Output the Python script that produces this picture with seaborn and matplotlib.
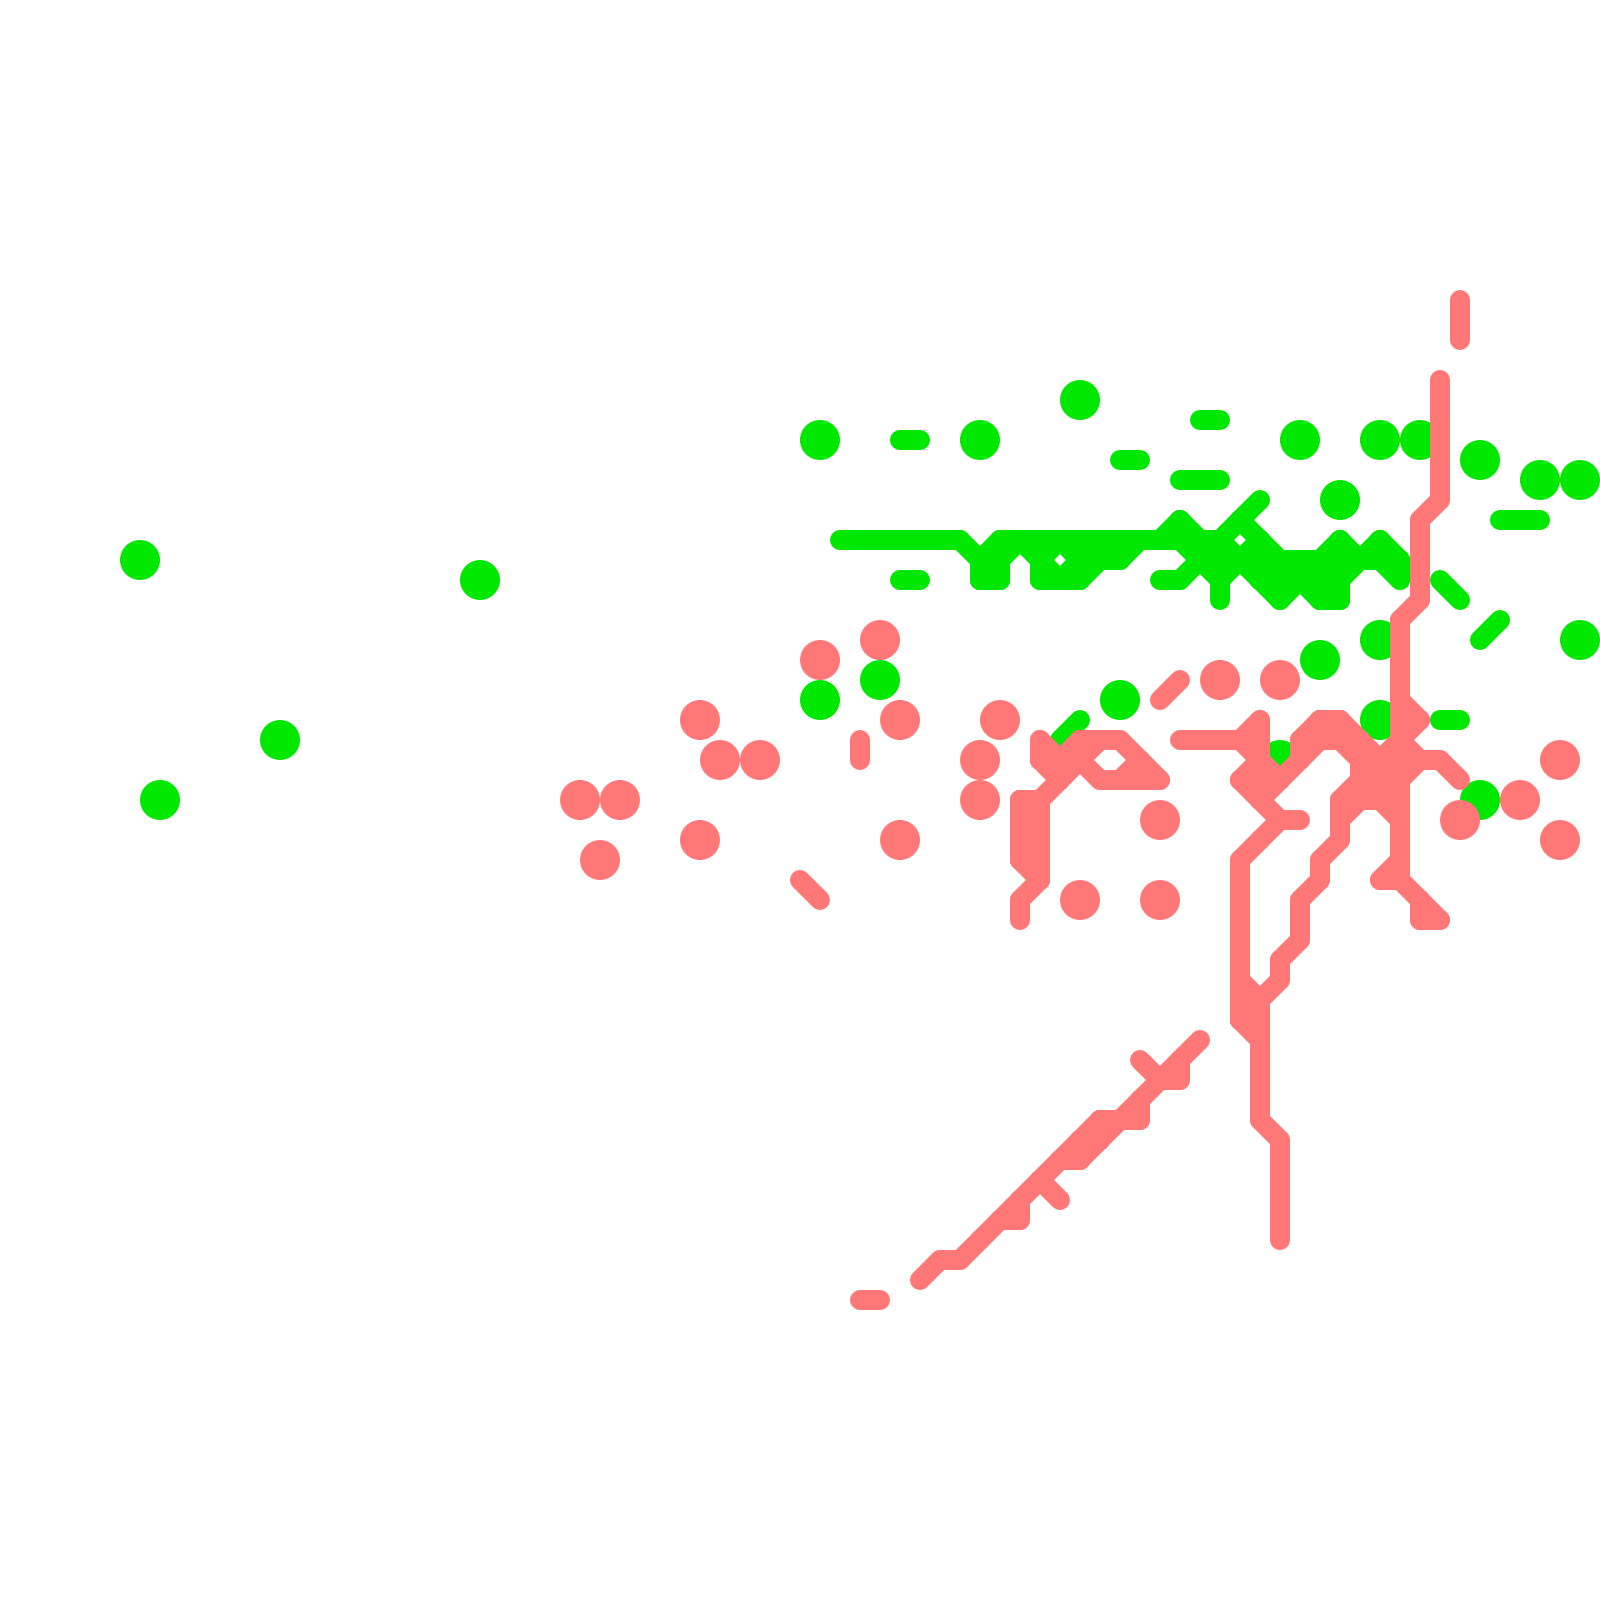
import matplotlib
matplotlib.use("Agg")
import matplotlib.pyplot as plt
import pandas as pd
import seaborn as sns

GREEN = "#00E800"
RED = "#FF7777"

# Occupied grid cells, listed row by row (grid of 80 x 80 cells)
green_x = [54, 60, 61, 41, 45, 46, 49, 65, 69, 71, 56, 57, 74,
           59, 60, 61, 77, 79, 63, 67, 59, 62, 75, 76, 77,
           42, 43, 44, 45, 46, 47, 48, 50, 51, 52, 53, 54, 55, 56, 57, 58, 59, 60, 61, 63, 67, 69,
           7, 49, 50, 52, 54, 55, 56, 60, 61, 62, 63, 64, 65, 66, 67, 68, 69, 70,
           24, 45, 46, 49, 50, 52, 53, 54, 58, 59, 61, 63, 64, 65, 66, 67, 70, 72,
           61, 64, 66, 67, 73, 75, 69, 74, 79, 66, 44, 41, 56,
           54, 69, 72, 73, 14, 53, 64, 8, 74]
green_y = [20, 21, 21, 22, 22, 22, 22, 22, 22, 22, 23, 23, 23,
           24, 24, 24, 24, 24, 25, 25, 26, 26, 26, 26, 26,
           27, 27, 27, 27, 27, 27, 27, 27, 27, 27, 27, 27, 27, 27, 27, 27, 27, 27, 27, 27, 27, 27,
           28, 28, 28, 28, 28, 28, 28, 28, 28, 28, 28, 28, 28, 28, 28, 28, 28, 28,
           29, 29, 29, 29, 29, 29, 29, 29, 29, 29, 29, 29, 29, 29, 29, 29, 29, 29,
           30, 30, 30, 30, 30, 31, 32, 32, 32, 33, 34, 35, 35,
           36, 36, 36, 36, 37, 37, 38, 40, 40]

red_x = [73, 73, 73, 72, 72, 72, 72, 72, 72, 72,
         71, 71, 71, 71, 71, 70, 70, 70, 70, 70,
         44, 41, 59, 61, 64, 58,
         35, 45, 50, 63, 66, 67, 70, 71,
         43, 52, 54, 55, 56, 59, 60, 61, 62, 63, 65, 66, 67, 68, 70,
         36, 38, 43, 49, 52, 53, 54, 57, 63, 65, 68, 69, 70, 71, 72, 78,
         53, 55, 56, 57, 58, 62, 63, 64, 68, 69, 70, 73,
         29, 31, 49, 51, 52, 63, 67, 68, 69, 70, 76,
         51, 52, 58, 64, 65, 67, 70, 73,
         35, 45, 51, 52, 63, 67, 70, 78,
         30, 51, 52, 62, 66, 70,
         40, 52, 62, 66, 69, 70,
         41, 51, 54, 58, 62, 65, 71,
         51, 62, 65, 71, 72,
         62, 65, 62, 64, 62, 64, 62, 63, 62, 63,
         60, 63, 57, 59, 63, 58, 59, 63, 57, 63,
         55, 56, 57, 63, 54, 55, 64, 53, 54, 64,
         52, 64, 51, 53, 64, 50, 51, 64, 49, 64,
         47, 48, 46, 43, 44]
red_y = [15, 16, 17, 19, 20, 21, 22, 23, 24, 25,
         26, 27, 28, 29, 30, 31, 32, 33, 34, 35,
         32, 33, 34, 34, 34, 35,
         36, 36, 36, 36, 36, 36, 36, 36,
         37, 37, 37, 37, 37, 37, 37, 37, 37, 37, 37, 37, 37, 37, 37,
         38, 38, 38, 38, 38, 38, 38, 38, 38, 38, 38, 38, 38, 38, 38, 38,
         39, 39, 39, 39, 39, 39, 39, 39, 39, 39, 39, 39,
         40, 40, 40, 40, 40, 40, 40, 40, 40, 40, 40,
         41, 41, 41, 41, 41, 41, 41, 41,
         42, 42, 42, 42, 42, 42, 42, 42,
         43, 43, 43, 43, 43, 43,
         44, 44, 44, 44, 44, 44,
         45, 45, 45, 45, 45, 45, 45,
         46, 46, 46, 46, 46,
         47, 47, 48, 48, 49, 49, 50, 50, 51, 51,
         52, 52, 53, 53, 53, 54, 54, 54, 55, 55,
         56, 56, 56, 56, 57, 57, 57, 58, 58, 58,
         59, 59, 60, 60, 60, 61, 61, 61, 62, 62,
         63, 63, 64, 65, 65]

assert len(green_x) == len(green_y) and len(red_x) == len(red_y)

sns.set_theme(style="white")
fig = plt.figure(figsize=(16, 16), dpi=100, facecolor="white")
ax = fig.add_axes([0, 0, 1, 1])

LINE_PT = 20 * 72 / 100          # 20 px stroke
DOT_S = (40 * 72 / 100) ** 2     # 40 px diameter


def draw(xs, ys, color, z):
    cells = set(zip(xs, ys))
    edges, lone = [], []
    for (x, y) in sorted(cells):
        linked = False
        for dx in (-1, 0, 1):
            for dy in (-1, 0, 1):
                if (dx or dy) and (x + dx, y + dy) in cells:
                    linked = True
                    if (dx, dy) > (0, 0):
                        n = len(edges)
                        edges.append({"edge": n, "x": x, "y": y})
                        edges.append({"edge": n, "x": x + dx, "y": y + dy})
        if not linked:
            lone.append({"x": x, "y": y})
    seg = pd.DataFrame(edges)
    sns.lineplot(data=seg, x="x", y="y", units="edge", estimator=None, sort=False,
                 color=color, linewidth=LINE_PT, solid_capstyle="round",
                 legend=False, ax=ax, zorder=z)
    sns.scatterplot(data=pd.DataFrame(lone), x="x", y="y", color=color, s=DOT_S,
                    linewidth=0, legend=False, ax=ax, zorder=z)
    # one size per point: the dots are then placed exactly, not snapped to a pixel corner
    ax.collections[-1].set_sizes([DOT_S] * len(lone))


draw(green_x, green_y, GREEN, 2)
draw(red_x, red_y, RED, 3)

ax.set_xlim(0, 80)
ax.set_ylim(80, 0)
ax.axis("off")
fig.savefig("out.png", dpi=100, facecolor="white")
